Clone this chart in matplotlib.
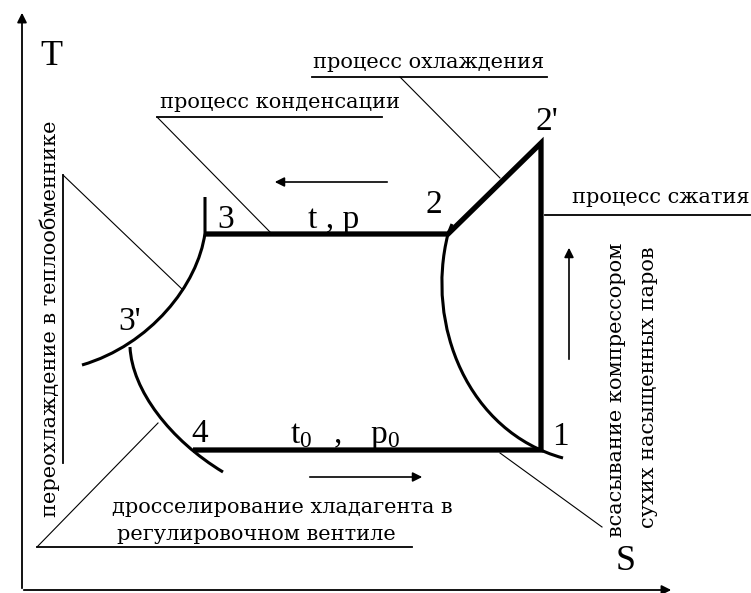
import matplotlib
matplotlib.use('Agg')
import matplotlib.pyplot as plt
from matplotlib.path import Path
from matplotlib.patches import PathPatch

plt.rcParams['font.family'] = ['Liberation Serif', 'DejaVu Serif']
plt.rcParams['mathtext.fontset'] = 'custom'
plt.rcParams['mathtext.rm'] = 'Liberation Serif'

# picture coordinates: S to the right, T downwards (axis is inverted below)
# cycle 4 -> 1 -> 2' -> 2 -> 3
cycle_s = [193, 541, 541, 448, 205]
cycle_t = [450, 450, 143, 234, 234]

# saturation lines: start point, straight piece, then bezier control points
vapour_s = [452, 448, 425, 468, 563]
vapour_t = [224, 234, 325, 432, 458]
liquid_s = [205, 205, 198, 150, 82]
liquid_t = [197, 233, 285, 345, 365]
throttle_s = [130, 132, 170, 223]
throttle_t = [347, 390, 440, 472]

# point labels
point_names = ['1', "2", "2'", '3', "3'", '4', 't , p', r'$\mathregular{t_0\ \ ,\ \ p_0}$']
point_s = [560, 434, 547, 226, 130, 200, 334, 345]
point_t = [445, 213, 130, 228, 330, 442, 228, 443]

# callouts: text, where it sits, its underline and the leader line
notes = ['процесс охлаждения', 'процесс конденсации', 'процесс сжатия',
         'дросселирование хладагента в', 'регулировочном вентиле']
note_s = [313, 160, 572, 112, 117]
note_t = [68, 108, 203, 513, 540]

underlines = [[(312, 77), (547, 77)],
              [(157, 117), (382, 117)],
              [(545, 215), (751, 215)],
              [(37, 547), (412, 547)],
              [(63, 175), (63, 463)]]
leaders = [[(400, 77), (500, 178)],
           [(157, 117), (271, 233)],
           [(37, 547), (158, 423)],
           [(63, 175), (183, 290)],
           [(500, 453), (602, 527)]]

side_notes = ['переохлаждение в теплообменнике',
              'всасывание компрессором', 'сухих насыщенных паров']
side_s = [50, 617, 648]
side_t = [517, 537, 528]

# direction arrows (from, to)
arrows = [[(390, 182), (272, 182)],
          [(307, 477), (425, 477)],
          [(569, 362), (569, 245)]]

fig = plt.figure(figsize=(7.51, 5.93), dpi=100)
ax = fig.add_axes([0, 0, 1, 1])
ax.set_xlim(0, 751)
ax.set_ylim(593, 0)
ax.axis('off')

# T and S axes
ax.annotate('', xy=(22, 10), xytext=(22, 591),
            arrowprops=dict(arrowstyle='-|>', lw=1.3, color='k', mutation_scale=14))
ax.annotate('', xy=(674, 590), xytext=(21, 590),
            arrowprops=dict(arrowstyle='-|>', lw=1.3, color='k', mutation_scale=14))
ax.text(51, 65, 'T', fontsize=26, ha='center', va='baseline')
ax.text(626, 570, 'S', fontsize=26, ha='center', va='baseline')

# the cycle itself
ax.plot(cycle_s, cycle_t, color='k', lw=3.8, solid_joinstyle='miter', solid_capstyle='butt')

C = Path.CURVE4
vapour = Path(list(zip(vapour_s, vapour_t)), [Path.MOVETO, Path.LINETO, C, C, C])
liquid = Path(list(zip(liquid_s, liquid_t)), [Path.MOVETO, Path.LINETO, C, C, C])
throttle = Path(list(zip(throttle_s, throttle_t)), [Path.MOVETO, C, C, C])
for p in [vapour, liquid, throttle]:
    ax.add_patch(PathPatch(p, fill=False, lw=2.2, color='k'))

for name, s, t in zip(point_names, point_s, point_t):
    ax.text(s, t, name, fontsize=24, ha='center', va='baseline')

for txt, s, t in zip(notes, note_s, note_t):
    ax.text(s, t, txt, fontsize=15, family='DejaVu Serif', ha='left', va='baseline')

for txt, s, t in zip(side_notes, side_s, side_t):
    ax.text(s, t, txt, fontsize=15, family='DejaVu Serif', rotation=90,
            ha='center', va='bottom')

for seg in underlines:
    ax.plot([seg[0][0], seg[1][0]], [seg[0][1], seg[1][1]], color='k', lw=1.3)
for seg in leaders:
    ax.plot([seg[0][0], seg[1][0]], [seg[0][1], seg[1][1]], color='k', lw=0.8)

for a, b in arrows:
    ax.annotate('', xy=b, xytext=a,
                arrowprops=dict(arrowstyle='-|>', lw=1.2, color='k', mutation_scale=14))

plt.savefig('out.png', dpi=100)
plt.close()
